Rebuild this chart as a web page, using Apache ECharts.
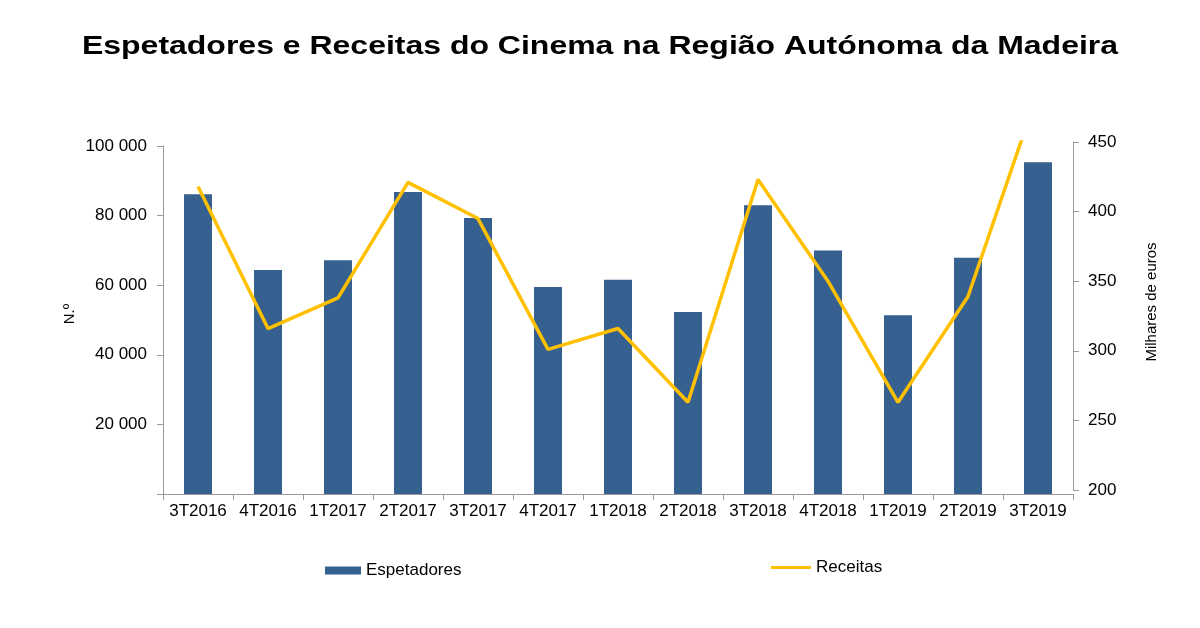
<!DOCTYPE html>
<html>
<head>
<meta charset="utf-8">
<script src="https://cdn.jsdelivr.net/npm/echarts@6/dist/echarts.min.js"></script>
<style>
html,body{margin:0;padding:0;background:#fff;}
#chart{width:1200px;height:628px;}
</style>
</head>
<body>
<div id="chart"></div>
<script>
const categories = ['3T2016','4T2016','1T2017','2T2017','3T2017','4T2017','1T2018','2T2018','3T2018','4T2018','1T2019','2T2019','3T2019'];
const espetadores = [86100, 64400, 67200, 86800, 79300, 59500, 61600, 52300, 83000, 70000, 51400, 67900, 95300];
const receitas = [418, 316, 338, 421, 395, 301, 316, 263, 423, 350, 263, 339, 486];
const leftTicks = { min: 0, max: 100000, interval: 20000 };
const rightTicks = { min: 200, max: 450, interval: 50 };

const FONT = '"Liberation Sans", Arial, sans-serif';
const axisGray = '#9a9a9a';
const titleText = 'Espetadores e Receitas do Cinema na Região Autónoma da Madeira';

const chart = echarts.init(document.getElementById('chart'), null, { renderer: 'canvas' });
chart.setOption({
  backgroundColor: '#ffffff',
  animation: false,
  textStyle: { fontFamily: FONT, color: '#000' },
  legend: [
    {
      data: [{ name: 'Espetadores', icon: 'rect' }],
      left: 320, top: 557,
      itemWidth: 36, itemHeight: 8, itemGap: 5,
      textStyle: { fontFamily: FONT, fontSize: 17, color: '#000' }
    },
    {
      data: [{ name: 'Receitas', icon: 'rect' }],
      left: 766, top: 554,
      itemWidth: 40, itemHeight: 3,
      textStyle: { fontFamily: FONT, fontSize: 17, color: '#000' }
    }
  ],
  grid: [
    { left: 163, right: 127, top: 146, bottom: 134 },
    { left: 163, right: 127, top: 142, bottom: 138 }
  ],
  xAxis: [
    {
      type: 'category', gridIndex: 0, data: categories,
      axisLine: { lineStyle: { color: axisGray, width: 1 } },
      axisTick: { show: true, length: 6, lineStyle: { color: axisGray } },
      axisLabel: { color: '#000', fontSize: 17, fontFamily: FONT, margin: 9, interval: 0 }
    },
    {
      type: 'category', gridIndex: 1, data: categories, show: false
    }
  ],
  yAxis: [
    {
      type: 'value', gridIndex: 0, position: 'left',
      min: leftTicks.min, max: leftTicks.max, interval: leftTicks.interval,
      splitLine: { show: false },
      axisLine: { show: true, lineStyle: { color: axisGray, width: 1 } },
      axisTick: { show: true, length: 6, lineStyle: { color: axisGray } },
      axisLabel: {
        color: '#000', fontSize: 17, fontFamily: FONT, margin: 16,
        formatter: function (v) { return v === 0 ? '' : String(v).replace(/\B(?=(\d{3})+(?!\d))/g, ' '); }
      }
    },
    {
      type: 'value', gridIndex: 1, position: 'right',
      min: rightTicks.min, max: rightTicks.max, interval: rightTicks.interval,
      splitLine: { show: false },
      axisLine: { show: true, lineStyle: { color: axisGray, width: 1 } },
      axisTick: { show: true, length: 6, lineStyle: { color: axisGray } },
      axisLabel: { color: '#000', fontSize: 17, fontFamily: FONT, margin: 15 }
    }
  ],
  graphic: [
    {
      type: 'text', x: 600, y: 47, scaleX: 1.23,
      style: { text: titleText, fill: '#000', font: 'bold 26px ' + FONT, textAlign: 'center', textVerticalAlign: 'middle' }
    },
    {
      type: 'text', x: 70, y: 314, rotation: Math.PI / 2,
      style: { text: 'N.º', fill: '#000', font: '15px ' + FONT, textAlign: 'center', textVerticalAlign: 'middle' }
    },
    {
      type: 'text', x: 1152, y: 302, rotation: Math.PI / 2,
      style: { text: 'Milhares de euros', fill: '#000', font: '15px ' + FONT, textAlign: 'center', textVerticalAlign: 'middle' }
    }
  ],
  series: [
    {
      name: 'Espetadores', type: 'bar', xAxisIndex: 0, yAxisIndex: 0,
      data: espetadores, barWidth: '40%',
      itemStyle: { color: '#36608F' }
    },
    {
      name: 'Receitas', type: 'line', xAxisIndex: 1, yAxisIndex: 1,
      data: receitas, symbol: 'none', clip: true,
      lineStyle: { color: '#FFC000', width: 3.5 },
      itemStyle: { color: '#FFC000' }
    }
  ]
});
</script>
</body>
</html>
